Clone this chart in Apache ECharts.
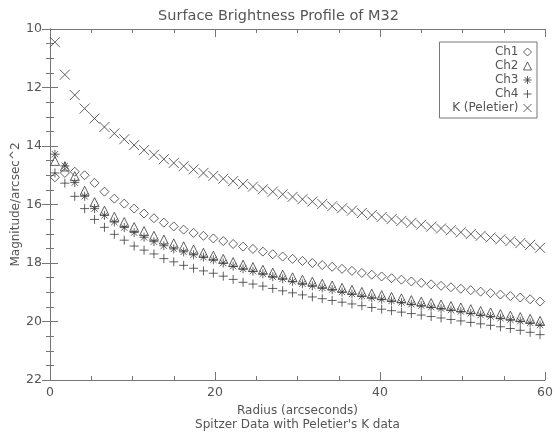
<!DOCTYPE html>
<html>
<head>
<meta charset="utf-8">
<script src="https://cdn.jsdelivr.net/npm/echarts@6/dist/echarts.min.js"></script>
<style>
  html, body { margin: 0; padding: 0; background: #fff; }
</style>
</head>
<body>
<div id="sb-profile-chart" style="width: 557px; height: 432px"></div>
<script>
// radii of the profile samples (arcsec)
const radii = [0.6, 1.8, 3.0, 4.2, 5.4, 6.6, 7.8, 9.0, 10.2, 11.4,
  12.6, 13.8, 15.0, 16.2, 17.4, 18.6, 19.8, 21.0, 22.2, 23.4,
  24.6, 25.8, 27.0, 28.2, 29.4, 30.6, 31.8, 33.0, 34.2, 35.4,
  36.6, 37.8, 39.0, 40.2, 41.4, 42.6, 43.8, 45.0, 46.2, 47.4,
  48.6, 49.8, 51.0, 52.2, 53.4, 54.6, 55.8, 57.0, 58.2, 59.4];

// magnitudes
const ch1 = [15.07, 14.92, 14.88, 15.00, 15.26, 15.56, 15.80, 15.97, 16.14, 16.31,
  16.47, 16.62, 16.75, 16.86, 16.97, 17.07, 17.16, 17.25, 17.35, 17.44,
  17.52, 17.61, 17.70, 17.78, 17.86, 17.93, 18.00, 18.07, 18.13, 18.20,
  18.27, 18.34, 18.40, 18.46, 18.52, 18.57, 18.63, 18.68, 18.73, 18.78,
  18.83, 18.88, 18.93, 18.98, 19.03, 19.08, 19.13, 19.18, 19.24, 19.32];
const ch2 = [14.51, 14.70, 15.03, 15.53, 15.92, 16.21, 16.42, 16.60, 16.77, 16.91,
  17.07, 17.20, 17.33, 17.43, 17.54, 17.65, 17.75, 17.86, 17.97, 18.06,
  18.14, 18.23, 18.33, 18.40, 18.49, 18.57, 18.64, 18.71, 18.77, 18.85,
  18.92, 18.99, 19.05, 19.10, 19.16, 19.21, 19.27, 19.32, 19.37, 19.42,
  19.47, 19.52, 19.58, 19.64, 19.69, 19.75, 19.80, 19.85, 19.91, 19.98];
const ch3 = [14.28, 14.68, 15.25, 15.72, 16.14, 16.37, 16.60, 16.79, 16.96, 17.12,
  17.27, 17.41, 17.52, 17.62, 17.72, 17.80, 17.89, 18.00, 18.11, 18.20,
  18.28, 18.37, 18.47, 18.54, 18.63, 18.71, 18.78, 18.85, 18.91, 18.99,
  19.06, 19.13, 19.19, 19.24, 19.30, 19.35, 19.41, 19.46, 19.51, 19.56,
  19.61, 19.66, 19.72, 19.78, 19.83, 19.89, 19.94, 19.99, 20.05, 20.12];
const ch4 = [14.92, 15.27, 15.72, 16.14, 16.51, 16.78, 17.02, 17.22, 17.42, 17.56,
  17.69, 17.85, 17.96, 18.08, 18.18, 18.27, 18.35, 18.45, 18.56, 18.66,
  18.72, 18.79, 18.87, 18.95, 19.02, 19.09, 19.16, 19.22, 19.28, 19.34,
  19.40, 19.46, 19.52, 19.58, 19.63, 19.68, 19.73, 19.78, 19.83, 19.88,
  19.93, 19.98, 20.03, 20.08, 20.13, 20.18, 20.24, 20.30, 20.37, 20.45];
const kPeletier = [10.45, 11.56, 12.26, 12.72, 13.06, 13.35, 13.57, 13.77, 13.97, 14.14,
  14.30, 14.45, 14.58, 14.69, 14.80, 14.92, 15.02, 15.12, 15.20, 15.30,
  15.39, 15.48, 15.56, 15.65, 15.74, 15.82, 15.90, 15.98, 16.06, 16.13,
  16.21, 16.29, 16.36, 16.43, 16.50, 16.56, 16.63, 16.69, 16.76, 16.82,
  16.88, 16.95, 17.01, 17.07, 17.13, 17.19, 17.25, 17.32, 17.38, 17.48];

const seriesNames = ["Ch1", "Ch2", "Ch3", "Ch4", "K (Peletier)"];
const xTicks = [0, 20, 40, 60];
const yTicks = [10, 12, 14, 16, 18, 20, 22];

const ink = "#3a3a3a";
const axisGray = "#777";
const textGray = "#555";
const font = "DejaVu Sans";

// stroked psym-like markers
const symbols = {
  diamond: "path://M5,0L10,5L5,10L0,5Z",
  triangle: "path://M5,0L10,10L0,10Z",
  asterisk: "path://M5,0V10M0,5H10M1.5,1.5L8.5,8.5M8.5,1.5L1.5,8.5",
  plus: "path://M5,0V10M0,5H10",
  cross: "path://M0,0L10,10M10,0L0,10",
};

function pts(vals) {
  return radii.map((r, i) => [r, vals[i]]);
}

function markerSeries(name, vals, symbol, size) {
  return {
    name: name,
    type: "scatter",
    data: pts(vals),
    symbol: symbol,
    symbolSize: size,
    itemStyle: { color: "transparent", borderColor: ink, borderWidth: 1 },
    emphasis: { disabled: true },
    silent: true,
  };
}

const axisCommon = {
  axisLine: { show: true, lineStyle: { color: axisGray, width: 1 } },
  axisTick: { show: true, inside: true, length: 8, lineStyle: { color: axisGray } },
  minorTick: { show: true, splitNumber: 4, length: 4, lineStyle: { color: axisGray } },
  splitLine: { show: false },
};

const option = {
  animation: false,
  backgroundColor: "#fff",
  title: {
    text: "Surface Brightness Profile of M32",
    left: "center",
    top: 4,
    textStyle: { fontFamily: font, fontSize: 14.5, fontWeight: "normal", color: textGray },
  },
  grid: { left: 50, right: 12, top: 29, bottom: 52, outerBoundsMode: "none" },
  legend: {
    orient: "vertical",
    right: 20,
    top: 42,
    align: "right",
    data: seriesNames,
    itemWidth: 8,
    itemHeight: 8,
    itemGap: 2,
    padding: [4, 5, 4, 5],
    borderColor: axisGray,
    borderWidth: 1,
    selectedMode: false,
    itemStyle: { color: "transparent", borderColor: ink, borderWidth: 1 },
    textStyle: {
      fontFamily: font, fontSize: 12, color: textGray,
      width: 74, align: "right", lineHeight: 12,
    },
  },
  xAxis: [
    Object.assign({}, axisCommon, {
      type: "value",
      min: xTicks[0],
      max: xTicks[xTicks.length - 1],
      interval: 20,
      name: "Radius (arcseconds)\nSpitzer Data with Peletier's K data",
      nameLocation: "middle",
      nameGap: 18,
      nameTextStyle: { fontFamily: font, fontSize: 12, color: textGray, lineHeight: 14 },
      axisLabel: { fontFamily: font, fontSize: 12.5, color: textGray, margin: 6 },
    }),
    Object.assign({}, axisCommon, {
      type: "value",
      position: "top",
      min: xTicks[0],
      max: xTicks[xTicks.length - 1],
      interval: 20,
      axisLabel: { show: false },
    }),
  ],
  yAxis: [
    Object.assign({}, axisCommon, {
      type: "value",
      inverse: true,
      min: yTicks[0],
      max: yTicks[yTicks.length - 1],
      interval: 2,
      name: "Magnitude/arcsec^2",
      nameLocation: "middle",
      nameGap: 28,
      nameMoveOverlap: false,
      nameTextStyle: { fontFamily: font, fontSize: 12, color: textGray },
      axisLabel: { fontFamily: font, fontSize: 12.5, color: textGray, margin: 8 },
    }),
    Object.assign({}, axisCommon, {
      type: "value",
      position: "right",
      inverse: true,
      min: yTicks[0],
      max: yTicks[yTicks.length - 1],
      interval: 2,
      axisLabel: { show: false },
    }),
  ],
  series: [
    markerSeries(seriesNames[0], ch1, symbols.diamond, 9),
    markerSeries(seriesNames[1], ch2, symbols.triangle, 9),
    markerSeries(seriesNames[2], ch3, symbols.asterisk, 9),
    markerSeries(seriesNames[3], ch4, symbols.plus, 9),
    markerSeries(seriesNames[4], kPeletier, symbols.cross, 10),
  ],
};

const chart = echarts.init(document.getElementById("sb-profile-chart"));
chart.setOption(option);
</script>
</body>
</html>
